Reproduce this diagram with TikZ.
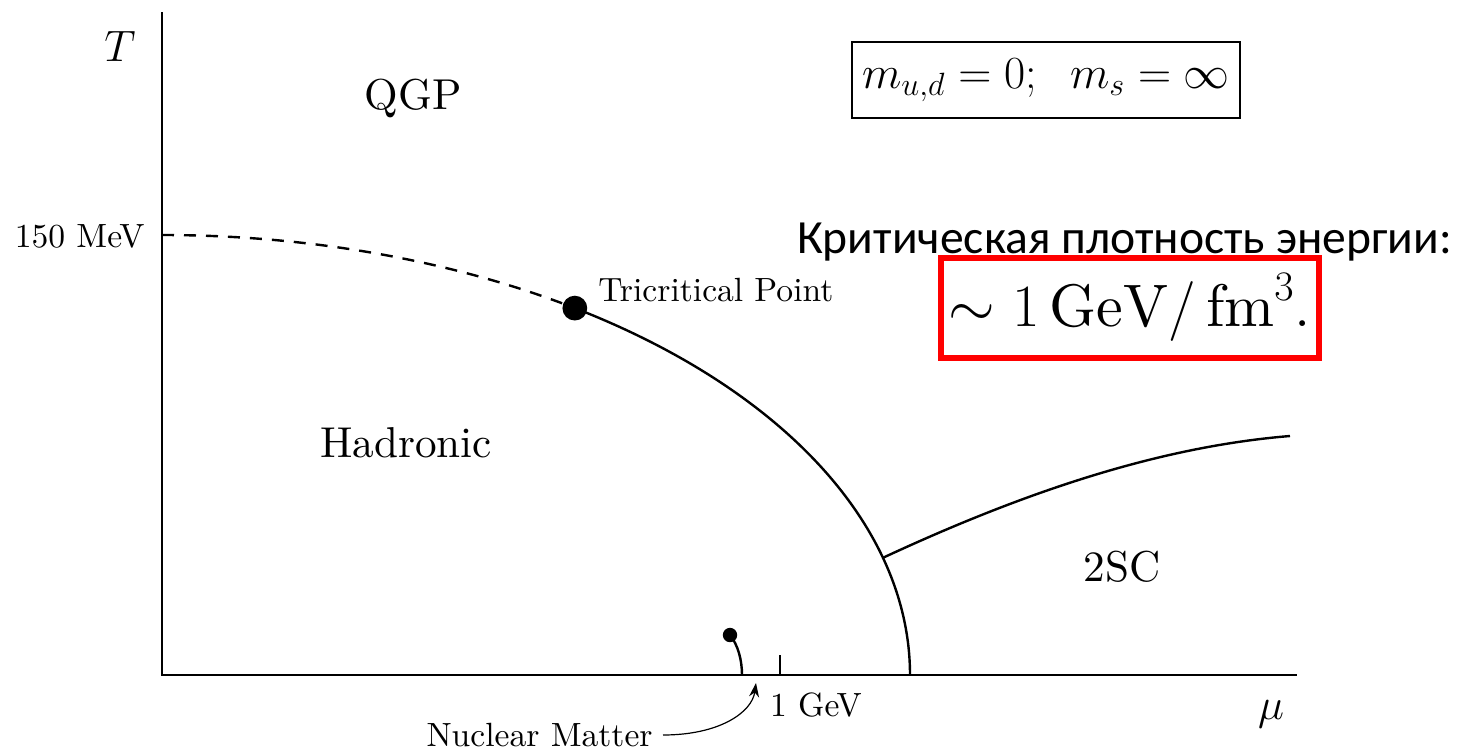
\RequirePackage{fix-cm}
\documentclass[tikz,border=0pt]{standalone}
\usepackage{fontspec}
\setmainfont{lmroman10-regular.otf}
\newfontfamily\rufont{Carlito}
\usetikzlibrary{arrows.meta}
\definecolor{boxred}{RGB}{255,0,0}
\begin{document}
\begin{tikzpicture}[x=0.5pt,y=0.5pt,
  lab/.style={inner sep=0pt, font=\fontsize{16.8}{20}\selectfont},
  big/.style={inner sep=0pt, font=\fontsize{21.6}{26}\selectfont},
  curve/.style={line width=1.2pt},
  axis/.style={line width=0.8pt}]
\useasboundingbox (0,0) rectangle (1463,-751);
% axes
\coordinate (ytop) at (162,-12);
\coordinate (orig) at (162,-675);
\coordinate (xend) at (1297,-675);
\draw[axis] (ytop) -- (orig) -- (xend);
\coordinate (tickb) at (780,-675);
\coordinate (tickt) at (780,-655);
\draw[axis] (tickb) -- (tickt);
% phase boundary (elliptic)
\coordinate (tstart) at (162,-235);
\coordinate (tc) at ([shift={(162,-675)}]56.5:748 and 440);
\coordinate (tp) at ([shift={(162,-675)}]15.45:748 and 440);
\draw[curve, dash pattern=on 6pt off 5pt] (tstart) arc[start angle=90,end angle=56.5,x radius=748,y radius=440];
\draw[curve] (tc) arc[start angle=56.5,end angle=0,x radius=748,y radius=440];
\fill (tc) circle (6.2pt);
% 2SC boundary
\coordinate (scend) at (1290,-436);
\draw[curve] (tp) .. controls (1018,-495) and (1155,-447) .. (scend);
% nuclear matter
\coordinate (nmdot) at (730,-635);
\coordinate (nmfoot) at (742,-675);
\fill (nmdot) circle (3.6pt);
\draw[curve] (nmdot) .. controls (738,-645) and (742,-660) .. (nmfoot);
% labels
\node[font=\fontsize{22}{26}\selectfont] (T) at (120,-46) {$T$};
\node[font=\fontsize{22}{26}\selectfont] (mu) at (1271,-714) {$\mu$};
\node[big] (qgp) at (413,-98) {QGP};
\node[big] (had) at (406,-443) {Hadronic};
\node[big] (sc) at (1122,-567) {2SC};
\node[lab, anchor=west] (tcp) at (598,-290) {Tricritical Point};
\node[lab, anchor=east] (t150) at (145,-236) {150 MeV};
\node[lab] (gev) at (816,-705) {1 GeV};
\node[lab, anchor=east] (nm) at (653,-735) {Nuclear Matter};
\coordinate (nmarrow) at (756,-683);
\draw[line width=0.6pt, -{Stealth[length=7pt,width=5pt]}, shorten <=5pt] (nm.east) .. controls (720,-735) and (752,-712) .. (nmarrow);
% boxes
\node[draw, line width=0.7pt, inner sep=0pt, minimum width=194pt, minimum height=38pt, font=\fontsize{23}{28}\selectfont] (mass) at (1046,-80) {$m_{u,d}=0;\;\; m_s=\infty$};
\node[inner sep=0pt, font=\rufont\fontsize{23.8}{28}\selectfont] (ru) at (1124.5,-242) {Критическая плотность энергии:};
\node[draw=boxred, line width=3pt, inner sep=0pt, minimum width=189pt, minimum height=50pt, font=\fontsize{30}{35}\selectfont] (eps) at (1130,-307.5) {$\sim 1\,\mathrm{GeV}/\,\mathrm{fm}^3.$};
\end{tikzpicture}
\end{document}
